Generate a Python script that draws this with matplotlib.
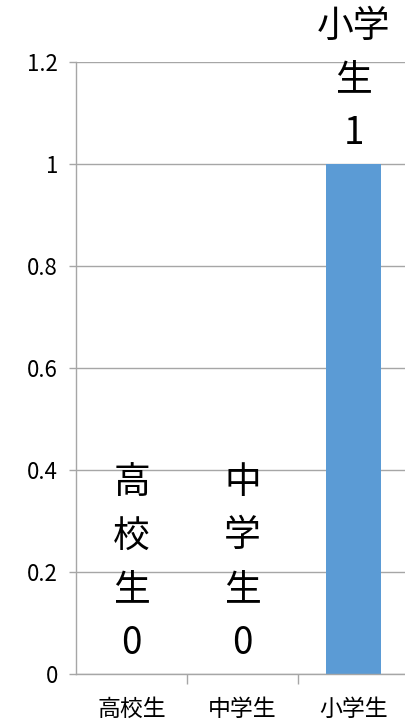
import matplotlib
matplotlib.use("Agg")
import matplotlib.pyplot as plt

plt.rcParams['font.family'] = ['Noto Sans CJK JP', 'DejaVu Sans']

categories = ["高校生", "中学生", "小学生"]
values = [0, 0, 1]
yticks = [0, 0.2, 0.4, 0.6, 0.8, 1.0, 1.2]
ytick_labels = ["0", "0.2", "0.4", "0.6", "0.8", "1", "1.2"]
data_labels = ["高\n校\n生\n0", "中\n学\n生\n0", "小学\n生\n1"]

fig = plt.figure(figsize=(4.05, 7.26), dpi=100)
ax = fig.add_axes([76/405, 52/726, 333/405, 612/726])

x = list(range(len(categories)))
ax.bar(x, values, width=0.5, color="#5B9BD5", zorder=2)

ax.set_xlim(-0.5, 2.5)
ax.set_ylim(0, 1.2)
ax.set_yticks(yticks)
ax.set_yticklabels(ytick_labels, fontsize=16)
ax.yaxis.grid(True, color="#a6a6a6", linewidth=1.0, zorder=0)

ax.set_xticks([0.5, 1.5, 2.5])
ax.set_xticklabels([])
ax.set_xticks(x, minor=True)
ax.set_xticklabels(categories, minor=True, fontsize=16.5)
ax.tick_params(axis='x', which='major', length=7, color="#a6a6a6", width=1)
ax.tick_params(axis='x', which='minor', length=0, pad=17)
ax.tick_params(axis='y', length=5, color="#a6a6a6", width=1, pad=8)

for s in ['top', 'right']:
    ax.spines[s].set_visible(False)
for s in ['left', 'bottom']:
    ax.spines[s].set_color("#a6a6a6")
    ax.spines[s].set_linewidth(1.0)

for xi, v, lab in zip(x, values, data_labels):
    ax.annotate(lab, (xi, v), xytext=(0, 8), textcoords='offset points',
                ha='center', va='bottom', fontsize=26.5, linespacing=1.49,
                annotation_clip=False)

fig.savefig("out.png", dpi=100)
